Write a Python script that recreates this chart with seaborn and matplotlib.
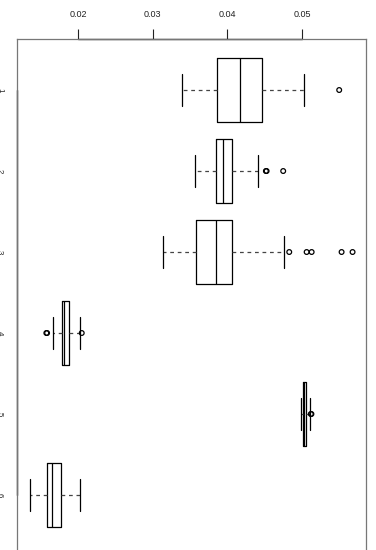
import pandas as pd
import matplotlib
matplotlib.use("Agg")
import matplotlib.pyplot as plt
import seaborn as sns

# groups, top to bottom
groups = ["1", "2", "3", "4", "5", "6"]

# five-number summaries
whisker_low = [0.03396, 0.03562, 0.03134, 0.01669, 0.04981, 0.01353]
q1 = [0.03857, 0.03843, 0.03580, 0.01779, 0.05016, 0.01589]
median = [0.04165, 0.03945, 0.03851, 0.01812, 0.05032, 0.01656]
q3 = [0.04463, 0.04066, 0.04058, 0.01873, 0.05048, 0.01776]
whisker_high = [0.05021, 0.04414, 0.04754, 0.02027, 0.05106, 0.02031]

# points beyond the whiskers
outlier_group = ["1", "2", "2", "2", "3", "3", "3", "3", "3", "4", "4", "4", "5", "5"]
outlier_value = [0.05498, 0.04516, 0.04526, 0.04748, 0.04829, 0.05062, 0.05129,
                 0.05530, 0.05677, 0.01576, 0.01586, 0.02050, 0.05118, 0.05126]

x_ticks = [0.02, 0.03, 0.04, 0.05]
x_tick_labels = ["0.02", "0.03", "0.04", "0.05"]

# long-form table for seaborn
rows = []
for g, a, b, c, d, e in zip(groups, whisker_low, q1, median, q3, whisker_high):
    for v in (a, b, c, d, e):
        rows.append((g, v))
box_df = pd.DataFrame(rows, columns=["group", "value"])
out_df = pd.DataFrame({"group": outlier_group, "value": outlier_value})

sns.set_theme(style="white")
plt.rcParams["font.family"] = ["Liberation Sans", "DejaVu Sans"]

fig = plt.figure(figsize=(3.76, 5.5), dpi=100)
ax = fig.add_axes([17 / 376, -6 / 550, 349 / 376, 517 / 550])

sns.boxplot(
    data=box_df, x="value", y="group", order=groups, orient="h",
    whis=(0, 100), width=0.8, fill=False, color="black", linewidth=0.9,
    whiskerprops=dict(linestyle=(0, (3, 3)), color="#444444"),
    ax=ax,
)
sns.stripplot(
    data=out_df, x="value", y="group", order=groups, orient="h",
    jitter=False, color="none", edgecolor="black", linewidth=0.9, size=3.4,
    ax=ax,
)

ax.set_xlim(0.01183, 0.05857)
ax.set_ylim(5.753, -0.63)
ax.set_xlabel("")
ax.set_ylabel("")

ax.xaxis.tick_top()
ax.set_xticks(x_ticks)
ax.set_xticklabels(x_tick_labels)
ax.tick_params(axis="x", direction="out", length=7, width=0.8, color="#222222",
               labelsize=6.5, pad=7.5, labelcolor="#222222")
ax.set_yticks(range(len(groups)))
ax.set_yticklabels(groups)
ax.tick_params(axis="y", direction="out", length=5, width=0.8, color="#444444",
               labelsize=5.7, pad=5, labelrotation=270, labelcolor="#222222")

for s in ax.spines.values():
    s.set_color("#777777")
    s.set_linewidth(0.9)

# darker axis lines over the tick range
ax.plot([x_ticks[0], x_ticks[-1]], [1, 1], transform=ax.get_xaxis_transform(),
        color="#222222", lw=1.0, clip_on=False)
ax.plot([0, 0], [0, len(groups) - 1], transform=ax.get_yaxis_transform(),
        color="#222222", lw=1.0, clip_on=False)

fig.savefig("out.png", dpi=100)
